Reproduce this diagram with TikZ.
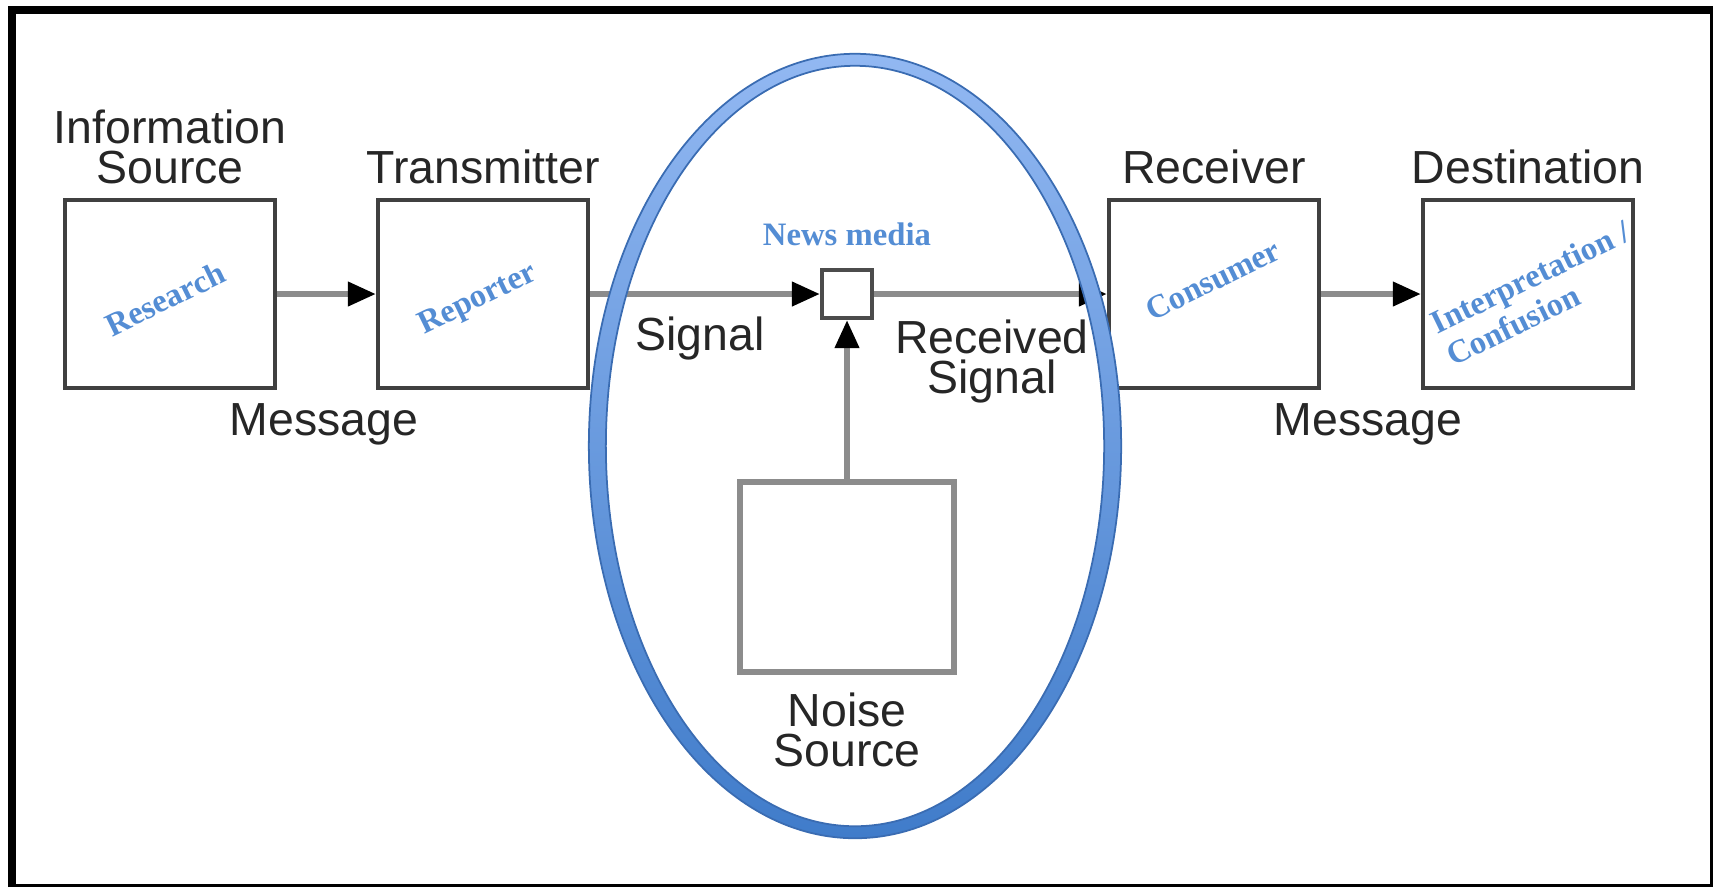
\documentclass[tikz,border=0pt]{standalone}
\usepackage{fontspec}
\setmainfont{Liberation Sans}
\newfontfamily\tagfont{Liberation Serif}
\usepackage{tikz}
\usetikzlibrary{positioning}
\usetikzlibrary{arrows.meta}
\definecolor{mediablue}{RGB}{84,141,212}
\definecolor{ringtop}{RGB}{146,184,242}
\definecolor{ringbot}{RGB}{64,124,202}
\definecolor{ringedge}{RGB}{58,108,178}

\begin{document}
\begin{tikzpicture}[x=0.01cm, y=-0.01cm,
    stage/.style={rectangle, draw=black!75, line width=1.1pt, minimum width=2.1cm, minimum height=1.88cm, inner sep=0pt},
    caption/.style={text=black!85, inner sep=0pt, align=center, font=\fontsize{13.2}{11.3}\selectfont},
    tag/.style={text=mediablue, inner sep=0pt, align=center, font=\tagfont\bfseries\fontsize{9.3}{10.2}\selectfont},
    wire/.style={draw=black!45, line width=1.8pt, -{Triangle[length=8pt, width=6.6pt, black]}}]
				\useasboundingbox (0,0) rectangle (1713,887);
				% frame
				\draw[line width=2.2pt] (12,887) -- (12,10) -- (1713,10);
				\draw[line width=0.8pt] (12,885.5) -- (1711.5,885.5) -- (1711.5,10);
				
				\node[stage] (info) at (170,294) {};
				\node[stage] (trans) at (483,294) {};
				\node[rectangle, draw=black!70, line width=1.1pt, minimum width=0.5cm, minimum height=0.48cm, inner sep=0pt] (media) at (847,294) {};
				\node[stage] (recv) at (1214,294) {};
				\node[stage] (dest) at (1528,294) {};
				\node[stage, draw=black!45, line width=1.6pt, minimum width=2.14cm, minimum height=1.9cm] (noise) at (847,577) {};
				
				\node[caption, above=3.8pt of info] (infotxt) {Information\\Source};
				\node[caption, above=3.8pt of trans] (transtxt) {Transmitter};
				\node[caption, above=3.8pt of recv] (recvtxt) {Receiver};
				\node[caption, above=3.8pt of dest] (desttxt) {Destination};
				\node[caption, below=5pt of noise] (noisetxt) {Noise\\Source};
				\node[caption, anchor=base] (msgleft) at (324,435) {Message};
				\node[caption, anchor=base] (msgright) at (1368,435) {Message};
				\node[caption, anchor=base] (sigtxt) at (700,350) {Signal};
				\node[caption, anchor=north] (rectxt) at (992,319) {Received\\Signal};
				
				\draw[wire] (info) -- (trans);
				\draw[wire] (trans) -- (media);
				\draw[wire] (media) -- (recv);
				\draw[wire] (recv) -- (dest);
				\draw[wire] (noise) -- (media);
				
				% news media ring
				\shade[top color=ringtop, bottom color=ringbot, even odd rule] (855,446) ellipse (2.66cm and 3.92cm) (855,446) ellipse (2.49cm and 3.80cm);
				\draw[ringedge, line width=0.5pt] (855,446) ellipse (2.66cm and 3.92cm);
				\draw[ringedge, line width=0.5pt] (855,446) ellipse (2.49cm and 3.80cm);
				
				\node[tag, anchor=base] (mediatxt) at (847,245) {News media};
				\node[tag, rotate=26] (research) at (165,299) {Research};
				\node[tag, rotate=26] (reporter) at (478,300) {Reporter};
				\node[tag, rotate=26] (consumer) at (1213,280) {Consumer};
				\node[tag, rotate=26, align=left] (interp) at (1538,293) {Interpretation /\\Confusion};
			\end{tikzpicture}
\end{document}
